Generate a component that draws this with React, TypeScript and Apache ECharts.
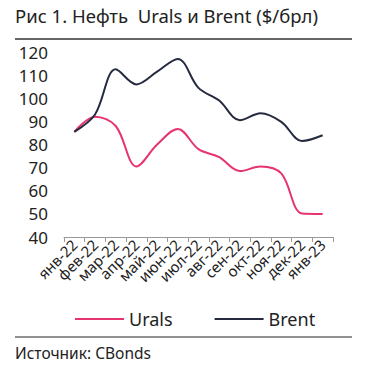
import React, { useEffect, useRef } from "react";
import * as echarts from "echarts";

const categories = ["янв-22", "фев-22", "мар-22", "апр-22", "май-22", "июн-22", "июл-22", "авг-22", "сен-22", "окт-22", "ноя-22", "дек-22", "янв-23"];
const urals = [85.5, 92, 88, 70.5, 80, 86.7, 78, 74.5, 68.5, 70.5, 67.5, 50.2, 50];
const brent = [85.5, 93, 112.5, 106, 111.5, 117, 104.5, 99, 90.5, 93.5, 89.8, 81.5, 84];
const yTicks = { min: 40, max: 120, interval: 10 };

const FONT = "Noto Sans";

export default function App() {
  const ref = useRef<HTMLDivElement>(null);
  useEffect(() => {
    if (!ref.current) return;
    const chart = echarts.init(ref.current, null, { renderer: "svg" });
    chart.setOption({
      animation: false,
      backgroundColor: "#fff",
      textStyle: { fontFamily: FONT },
      grid: { left: 64, right: 38, top: 52, bottom: 130 },
      legend: {
        bottom: 34,
        left: 70,
        icon: "rect",
        itemWidth: 49,
        itemHeight: 2,
        itemGap: 42,
        textStyle: { fontSize: 18, color: "#222", fontFamily: FONT },
        data: ["Urals", "Brent"],
      },
      xAxis: {
        type: "category",
        data: categories,
        boundaryGap: true,
        axisLine: { lineStyle: { color: "#999" } },
        axisTick: { show: true, length: 5, lineStyle: { color: "#999" } },
        axisLabel: { rotate: 45, fontSize: 15, color: "#222", margin: 5, interval: 0 },
      },
      yAxis: {
        type: "value",
        min: yTicks.min,
        max: yTicks.max,
        interval: yTicks.interval,
        splitLine: { show: false },
        axisLine: { show: false },
        axisTick: { show: false },
        axisLabel: { fontSize: 17, color: "#222", margin: 16 },
      },
      series: [
        {
          name: "Urals",
          type: "line",
          data: urals,
          smooth: 0.35,
          symbol: "none",
          lineStyle: { color: "#e7346e", width: 2 },
          itemStyle: { color: "#e7346e" },
          z: 2,
        },
        {
          name: "Brent",
          type: "line",
          data: brent,
          smooth: 0.35,
          symbol: "none",
          lineStyle: { color: "#252a40", width: 2 },
          itemStyle: { color: "#252a40" },
          z: 3,
        },
      ],
      graphic: [
        {
          type: "text",
          left: 15,
          top: 6,
          style: { text: "Рис 1. Нефть  Urals и Brent ($/брл)", fontSize: 18.5, fill: "#222", fontFamily: FONT },
        },
        { type: "line", shape: { x1: 15, y1: 39, x2: 352, y2: 39 }, style: { stroke: "#333", lineWidth: 1.5 } },
        { type: "line", shape: { x1: 15, y1: 337, x2: 352, y2: 337 }, style: { stroke: "#222", lineWidth: 1 } },
        {
          type: "text",
          left: 15,
          top: 345,
          style: { text: "Источник: CBonds", fontSize: 15.5, fill: "#222", fontFamily: FONT },
        },
      ],
    });
    return () => chart.dispose();
  }, []);
  return <div ref={ref} style={{ width: 371, height: 367, position: "absolute", left: 0, top: 0 }} />;
}
